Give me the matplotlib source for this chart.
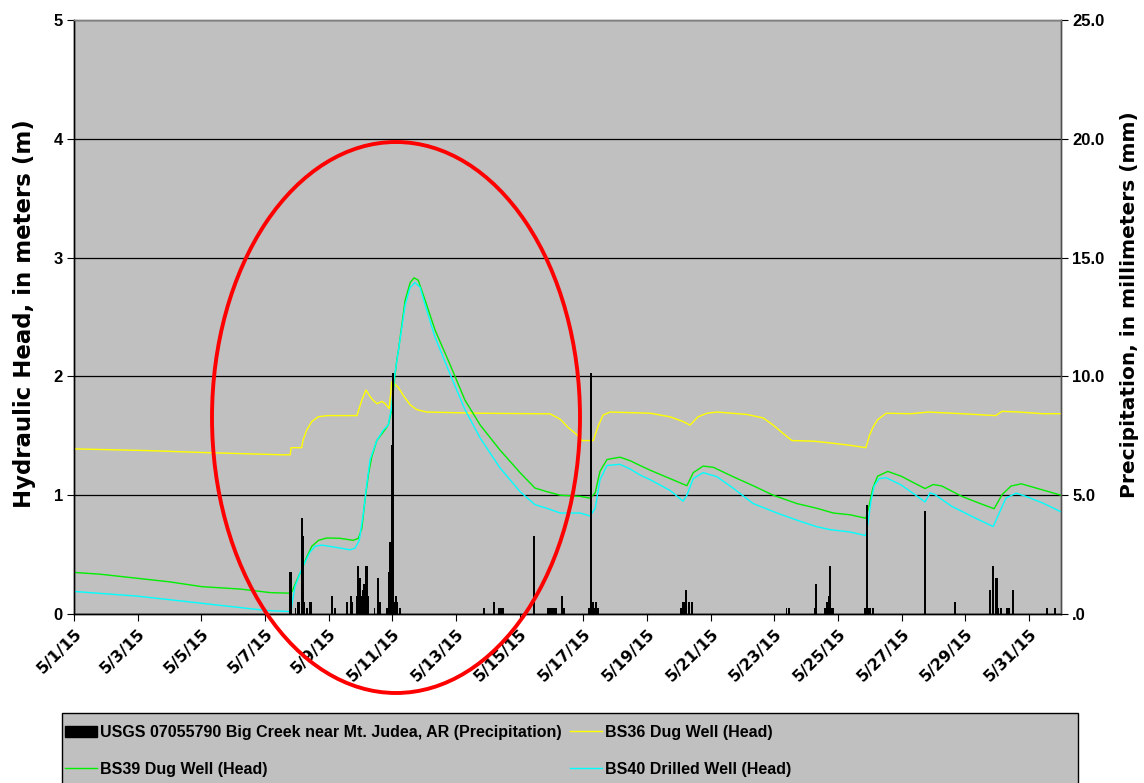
import matplotlib
matplotlib.use("Agg")
import matplotlib.pyplot as plt
import matplotlib.dates as mdates
from matplotlib.patches import Ellipse, Patch, Rectangle
from matplotlib.lines import Line2D
from matplotlib.ticker import FuncFormatter, FixedLocator
import numpy as np

plt.rcParams["font.family"] = ["Liberation Sans", "DejaVu Sans"]
plt.rcParams["font.weight"] = "bold"

# ---- data: time in days since 5/1/2015 00:00 ----
precip_day = [6.78, 6.82, 6.96, 7.04, 7.08, 7.15, 7.19, 7.23, 7.32, 7.41, 7.46,
              8.10, 8.19, 8.57, 8.69, 8.73, 8.88, 8.92, 8.98, 9.02, 9.06, 9.11,
              9.17, 9.21, 9.25, 9.44, 9.55, 9.60, 9.83, 9.89, 9.93, 9.97, 10.02,
              10.08, 10.12, 10.16, 10.24, 12.87, 13.20, 13.35, 13.42, 13.48,
              14.45, 14.89, 14.95, 15.02, 15.08, 15.14, 15.33, 15.39, 16.18,
              16.23, 16.29, 16.34, 16.40, 16.46, 19.06, 19.12, 19.16, 19.23,
              19.31, 19.41, 22.38, 22.45, 23.26, 23.31, 23.59, 23.66, 23.70,
              23.75, 23.80, 23.85, 24.85, 24.90, 24.96, 25.02, 25.09, 26.74,
              27.68, 28.77, 28.87, 28.94, 28.98, 29.03, 29.12, 29.31, 29.37,
              29.50, 30.57, 30.82]
precip_mm = [1.78, 1.78, 0.25, 0.51, 0.51, 4.06, 3.30, 0.51, 0.25, 0.51, 0.51,
             0.76, 0.25, 0.51, 0.76, 0.51, 0.76, 2.03, 1.52, 0.76, 1.02, 1.27,
             2.03, 2.03, 0.76, 0.25, 1.52, 0.51, 0.25, 1.78, 3.05, 7.11, 10.16,
             0.51, 0.76, 0.51, 0.25, 0.25, 0.51, 0.25, 0.25, 0.25,
             3.30, 0.25, 0.25, 0.25, 0.25, 0.25, 0.76, 0.25, 0.25,
             10.16, 0.51, 0.25, 0.51, 0.25, 0.25, 0.51, 0.51, 1.02,
             0.51, 0.51, 0.25, 0.25, 0.25, 1.27, 0.25, 0.51, 0.76,
             2.03, 0.25, 0.25, 0.25, 4.57, 0.25, 0.25, 0.25, 4.32,
             0.51, 1.02, 2.03, 1.52, 1.52, 0.25, 0.25, 0.25, 0.25,
             1.02, 0.25, 0.25]

bs36_day = [0.00, 2.39, 3.96, 6.57, 6.79, 6.82, 7.15, 7.19, 7.31, 7.47, 7.67,
            7.95, 8.89, 8.92, 9.04, 9.17, 9.30, 9.39, 9.52, 9.67, 9.77, 9.90,
            9.98, 10.05, 10.18, 10.34, 10.56, 10.77, 11.08, 12.76, 14.95, 15.27,
            15.52, 15.79, 15.95, 16.31, 16.46, 16.62, 16.84, 18.10, 18.72,
            19.13, 19.35, 19.60, 19.88, 20.19, 21.13, 21.65, 21.96, 22.27,
            22.55, 23.22, 23.75, 24.38, 24.87, 24.98, 25.09, 25.24, 25.51,
            26.30, 26.83, 27.89, 28.95, 29.15, 29.69, 30.43, 31.00]
bs36_head = [1.39, 1.375, 1.36, 1.34, 1.34, 1.40, 1.40, 1.46, 1.55, 1.62, 1.66,
             1.67, 1.67, 1.70, 1.80, 1.885, 1.83, 1.80, 1.77, 1.79, 1.77, 1.73,
             1.955, 1.94, 1.91, 1.84, 1.76, 1.72, 1.70, 1.69, 1.685, 1.64,
             1.57, 1.51, 1.46, 1.46, 1.58, 1.675, 1.70, 1.69, 1.66,
             1.62, 1.59, 1.66, 1.69, 1.70, 1.68, 1.65, 1.59, 1.52,
             1.46, 1.455, 1.44, 1.42, 1.40, 1.50, 1.57, 1.635, 1.69,
             1.686, 1.70, 1.686, 1.67, 1.706, 1.70, 1.686, 1.686]

bs39_day = [0.00, 0.82, 2.01, 3.02, 4.02, 5.22, 6.16, 6.79, 6.85, 7.00, 7.15,
            7.31, 7.47, 7.68, 7.94, 8.36, 8.77, 8.93, 9.04, 9.14, 9.25, 9.35,
            9.51, 9.72, 9.87, 9.98, 10.05, 10.14, 10.19, 10.40, 10.56, 10.68,
            10.81, 11.03, 11.34, 11.81, 12.28, 12.76, 13.38, 14.01, 14.48,
            14.85, 15.27, 15.90, 16.21, 16.37, 16.52, 16.74, 16.93, 17.15,
            17.47, 17.78, 18.10, 18.72, 19.25, 19.45, 19.76, 20.08, 20.70,
            21.33, 21.96, 22.70, 23.33, 23.85, 24.38, 24.87, 24.98, 25.09,
            25.24, 25.56, 25.98, 26.41, 26.73, 26.99, 27.26, 27.89, 28.42,
            28.90, 29.15, 29.43, 29.75, 30.22, 31.00]
bs39_head = [0.35, 0.335, 0.30, 0.27, 0.23, 0.21, 0.18, 0.175, 0.19, 0.286, 0.37,
             0.48, 0.57, 0.62, 0.64, 0.637, 0.62, 0.637, 0.72, 0.96, 1.18, 1.32,
             1.46, 1.535, 1.59, 1.72, 1.94, 2.14, 2.22, 2.64, 2.79, 2.83,
             2.81, 2.64, 2.39, 2.10, 1.80, 1.59, 1.38, 1.19, 1.06,
             1.03, 1.00, 0.99, 0.975, 1.02, 1.20, 1.30, 1.31, 1.32,
             1.29, 1.25, 1.21, 1.14, 1.08, 1.19, 1.245, 1.235, 1.156,
             1.08, 1.00, 0.93, 0.89, 0.85, 0.835, 0.806, 0.92, 1.06,
             1.16, 1.20, 1.16, 1.10, 1.056, 1.09, 1.077, 0.99, 0.934,
             0.886, 1.005, 1.077, 1.096, 1.06, 1.00]

bs40_day = [0.00, 2.01, 4.02, 6.03, 6.82, 6.85, 6.94, 7.10, 7.26, 7.41, 7.57,
            7.78, 8.25, 8.67, 8.83, 8.96, 9.09, 9.20, 9.30, 9.51, 9.72, 9.87,
            9.98, 10.05, 10.19, 10.40, 10.56, 10.71, 10.87, 11.03, 11.34,
            11.81, 12.28, 12.76, 13.38, 14.01, 14.48, 14.85, 15.27, 15.90,
            16.21, 16.37, 16.52, 16.74, 16.93, 17.15, 17.47, 17.78, 18.10,
            18.72, 19.13, 19.25, 19.45, 19.76, 20.19, 20.70, 21.33, 22.08,
            22.81, 23.33, 23.75, 24.38, 24.87, 24.93, 25.03, 25.13, 25.29,
            25.51, 25.98, 26.41, 26.73, 26.89, 27.04, 27.57, 28.32, 28.87,
            29.06, 29.27, 29.59, 29.90, 30.43, 31.00]
bs40_head = [0.19, 0.15, 0.09, 0.03, 0.02, 0.09, 0.23, 0.345, 0.44, 0.52, 0.57,
             0.58, 0.56, 0.54, 0.555, 0.62, 0.85, 1.10, 1.30, 1.46, 1.55, 1.59,
             1.745, 1.97, 2.22, 2.60, 2.75, 2.79, 2.75, 2.60, 2.33,
             2.02, 1.72, 1.48, 1.23, 1.03, 0.92, 0.89, 0.85, 0.85,
             0.825, 0.89, 1.13, 1.25, 1.255, 1.26, 1.22, 1.17, 1.13,
             1.04, 0.95, 1.00, 1.14, 1.19, 1.156, 1.06, 0.93, 0.85,
             0.78, 0.735, 0.71, 0.69, 0.66, 0.75, 0.95, 1.077, 1.14,
             1.147, 1.086, 1.005, 0.943, 1.02, 1.005, 0.906, 0.806, 0.736,
             0.85, 0.976, 1.017, 0.99, 0.934, 0.86]

series_names = ["USGS 07055790 Big Creek near Mt. Judea, AR (Precipitation)",
                "BS36 Dug Well (Head)", "BS39 Dug Well (Head)",
                "BS40 Drilled Well (Head)"]
head_ticks = [0, 1, 2, 3, 4, 5]
precip_ticks = [0, 5, 10, 15, 20, 25]

# ---- figure ----
base = mdates.date2num(np.datetime64("2015-05-01"))
def tnum(days):
    return base + np.asarray(days, dtype=float)

W, H = 1144, 783
fig = plt.figure(figsize=(W / 100, H / 100), dpi=100)
ax = fig.add_axes([74 / W, 1 - 614 / H, 987 / W, 594 / H])
ax.set_facecolor("#C0C0C0")

ax.plot(tnum(bs36_day), bs36_head, color="#FFFF00", lw=1.0, zorder=3)
ax.plot(tnum(bs39_day), bs39_head, color="#00EE00", lw=1.0, zorder=3)
ax.plot(tnum(bs40_day), bs40_head, color="#00FFFF", lw=1.0, zorder=3)

ax.set_ylim(0, 5)
ax.set_yticks(head_ticks)
ax.yaxis.grid(True, color="black", lw=0.9)
ax.set_axisbelow(True)
ax.set_xlim(base, base + 31)
ax.xaxis.set_major_locator(FixedLocator(tnum(np.arange(0, 31, 2))))
ax.xaxis.set_major_formatter(FuncFormatter(
    lambda v, p: (lambda d: f"{d.month}/{d.day}/{d.year % 100}")(mdates.num2date(v))))
ax.set_ylabel("Hydraulic Head, in meters (m)", fontsize=16.5, fontweight="bold",
              family=["DejaVu Sans"])
ax.yaxis.set_label_coords(-0.038, 0.505)

ax2 = ax.twinx()
ax2.bar(tnum(precip_day), precip_mm, width=0.055, color="black", align="center",
        zorder=4)
ax2.set_ylim(0, 25)
ax2.set_yticks(precip_ticks)
ax2.yaxis.set_major_formatter(FuncFormatter(lambda v, p: ".0" if v == 0 else f"{v:.1f}"))
ax2.set_ylabel("Precipitation, in millimeters (mm)", fontsize=14.5, fontweight="bold",
               family=["DejaVu Sans"])
ax2.yaxis.set_label_coords(1.06, 0.52)

for a in (ax, ax2):
    a.spines["top"].set_color("#808080")
    a.spines["right"].set_color("#505050")
    a.spines["left"].set_color("black")
    a.spines["bottom"].set_color("black")
    for s in a.spines.values():
        s.set_linewidth(1.0)
ax.tick_params(axis="y", direction="out", length=5, width=0.8, labelsize=12, pad=3)
ax2.tick_params(axis="y", direction="out", length=5, width=0.8, labelsize=12, pad=3)
ax.tick_params(axis="x", direction="out", length=5, width=0.8, pad=4)
for lab in ax.get_xticklabels():
    lab.set_rotation(45)
    lab.set_ha("right")
    lab.set_va("top")
    lab.set_rotation_mode("anchor")
    lab.set_fontsize(11.5)
    lab.set_family(["DejaVu Sans"])
    lab.set_fontweight("bold")

# ---- legend box ----
fig.add_artist(Rectangle((62 / W, -0.01), 1016 / W, 70 / H + 0.01,
                         transform=fig.transFigure, facecolor="#C0C0C0",
                         edgecolor="black", lw=1.0, zorder=1))
handles = [Patch(facecolor="black", edgecolor="black"),
           Line2D([], [], color="#00EE00", lw=1.0),
           Line2D([], [], color="#FFFF00", lw=1.0),
           Line2D([], [], color="#00FFFF", lw=1.0)]
labels = [series_names[0], series_names[2], series_names[1], series_names[3]]
leg = fig.legend(handles, labels, loc="upper left",
                 bbox_to_anchor=(65 / W, 1 - 725 / H),
                 ncol=2, frameon=False, borderaxespad=0, borderpad=0,
                 handlelength=2.0, handletextpad=0.2, columnspacing=0.5,
                 labelspacing=1.35, prop={"size": 11.5, "weight": "bold"})
leg.set_zorder(2)

# ---- highlight around the storm event ----
fig.add_artist(Ellipse((396 / W, 1 - 417.5 / H), 368 / W, 551 / H,
                       transform=fig.transFigure, fill=False, edgecolor="red",
                       lw=2.8, zorder=20))

fig.savefig("out.png", dpi=100, facecolor="white")
